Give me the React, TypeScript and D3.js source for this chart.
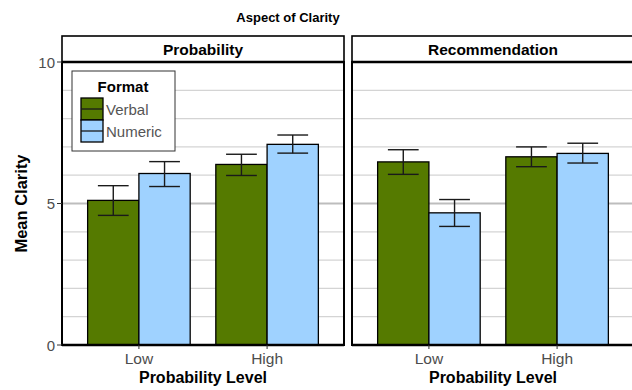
import * as d3 from 'd3';
import React from 'react';

// data
const levels = ['Low', 'High'];
const formats = ['Verbal', 'Numeric'];
const panels = ['Probability', 'Recommendation'];

const probabilityVerbal = [5.11, 6.38];
const probabilityVerbalLo = [4.58, 5.99];
const probabilityVerbalHi = [5.63, 6.74];
const probabilityNumeric = [6.06, 7.09];
const probabilityNumericLo = [5.6, 6.78];
const probabilityNumericHi = [6.48, 7.42];

const recommendationVerbal = [6.47, 6.65];
const recommendationVerbalLo = [6.03, 6.3];
const recommendationVerbalHi = [6.9, 7.0];
const recommendationNumeric = [4.67, 6.77];
const recommendationNumericLo = [4.19, 6.43];
const recommendationNumericHi = [5.14, 7.13];

const yTicks = [0, 5, 10];
const yMinor = [1, 2, 3, 4, 6, 7, 8, 9];

const colors = ['#557a00', '#9fd2ff'];
const font = "'Liberation Sans', Arial, Helvetica, sans-serif";

function App() {
  const W = 632, H = 390;
  const top = 62, bottom = 345;
  const panelW = 282;
  const panelX = [62, 352];

  const y = d3.scaleLinear().domain([0, 10]).range([bottom, top]);
  const x = d3.scaleBand().domain(levels).range([0, panelW]).paddingInner(0.2).paddingOuter(0.2);
  const xf = d3.scaleBand().domain(formats).range([0, x.bandwidth()]);
  const color = d3.scaleOrdinal<string>().domain(formats).range(colors);

  const panelData = [
    [
      { mean: probabilityVerbal, lo: probabilityVerbalLo, hi: probabilityVerbalHi },
      { mean: probabilityNumeric, lo: probabilityNumericLo, hi: probabilityNumericHi },
    ],
    [
      { mean: recommendationVerbal, lo: recommendationVerbalLo, hi: recommendationVerbalHi },
      { mean: recommendationNumeric, lo: recommendationNumericLo, hi: recommendationNumericHi },
    ],
  ];

  const errW = xf.bandwidth() * 0.6;

  return (
    <svg width={W} height={H} style={{ position: 'absolute', left: 0, top: 0, fontFamily: font }}>
      <rect width={W} height={H} fill="white" />
      <text x={288} y={22} textAnchor="middle" fontWeight="bold" fontSize={13} fill="black">Aspect of Clarity</text>

      {panels.map((p, pi) => {
        const x0 = panelX[pi];
        return (
          <g key={p} transform={`translate(${x0},0)`}>
            {yMinor.map(v => (
              <line key={'m' + v} x1={0} x2={panelW} y1={y(v)} y2={y(v)} stroke="#d4d4d4" strokeWidth={1.2} />
            ))}
            {yTicks.map(v => (
              <line key={'g' + v} x1={0} x2={panelW} y1={y(v)} y2={y(v)} stroke="#bdbdbd" strokeWidth={2} />
            ))}
            {formats.map((f, fi) =>
              levels.map((l, li) => {
                const d = panelData[pi][fi];
                const bx = (x(l) ?? 0) + (xf(f) ?? 0);
                const cx = bx + xf.bandwidth() / 2;
                return (
                  <g key={f + l}>
                    <rect x={bx} y={y(d.mean[li])} width={xf.bandwidth()} height={y(0) - y(d.mean[li])}
                      fill={color(f)} stroke="black" strokeWidth={1.3} />
                    <line x1={cx} x2={cx} y1={y(d.lo[li])} y2={y(d.hi[li])} stroke="#1a1a1a" strokeWidth={1.4} />
                    <line x1={cx - errW / 2} x2={cx + errW / 2} y1={y(d.lo[li])} y2={y(d.lo[li])} stroke="#1a1a1a" strokeWidth={1.4} />
                    <line x1={cx - errW / 2} x2={cx + errW / 2} y1={y(d.hi[li])} y2={y(d.hi[li])} stroke="#1a1a1a" strokeWidth={1.4} />
                  </g>
                );
              })
            )}
            {/* panel border */}
            <rect x={0} y={top} width={panelW} height={bottom - top} fill="none" stroke="black" strokeWidth={2} />
            <line x1={0} x2={panelW} y1={bottom} y2={bottom} stroke="black" strokeWidth={2.5} />
            {/* strip */}
            <rect x={0} y={36} width={panelW} height={top - 36} fill="white" stroke="black" strokeWidth={1.6} />
            <line x1={0} x2={panelW} y1={top} y2={top} stroke="black" strokeWidth={2.5} />
            <text x={panelW / 2} y={55} textAnchor="middle" fontWeight="bold" fontSize={15.5} fill="black">{p}</text>
            {/* x axis */}
            {levels.map(l => {
              const cx = (x(l) ?? 0) + x.bandwidth() / 2;
              return (
                <g key={l}>
                  <line x1={cx} x2={cx} y1={bottom} y2={bottom + 4} stroke="#333" strokeWidth={1} />
                  <text x={cx} y={364} textAnchor="middle" fontSize={15.5} fill="#4d4d4d">{l}</text>
                </g>
              );
            })}
            <text x={panelW / 2} y={383} textAnchor="middle" fontWeight="bold" fontSize={16} fill="black">Probability Level</text>
          </g>
        );
      })}

      {/* y axis */}
      {yTicks.map(v => (
        <g key={v}>
          <line x1={57} x2={62} y1={y(v)} y2={y(v)} stroke="#333" strokeWidth={1} />
          <text x={55} y={y(v) + 5.5} textAnchor="end" fontSize={15} fill="#4d4d4d">{v}</text>
        </g>
      ))}
      <text transform={`translate(27,${(top + bottom) / 2}) rotate(-90)`} textAnchor="middle" fontWeight="bold" fontSize={16.5} fill="black">Mean Clarity</text>

      {/* legend */}
      <g transform="translate(72,71)">
        <rect width={103} height={80} fill="white" stroke="#333" strokeWidth={1} />
        <text x={51} y={21} textAnchor="middle" fontWeight="bold" fontSize={15} fill="black">Format</text>
        {formats.map((f, i) => (
          <g key={f} transform={`translate(9,${27 + i * 22})`}>
            <rect width={22} height={22} fill={color(f)} stroke="black" strokeWidth={1.3} />
            <line x1={0} x2={22} y1={11} y2={11} stroke="#1a1a1a" strokeWidth={1.3} />
            <text x={25} y={16.5} fontSize={15} fill="#555">{f}</text>
          </g>
        ))}
      </g>
    </svg>
  );
}

export default App;
